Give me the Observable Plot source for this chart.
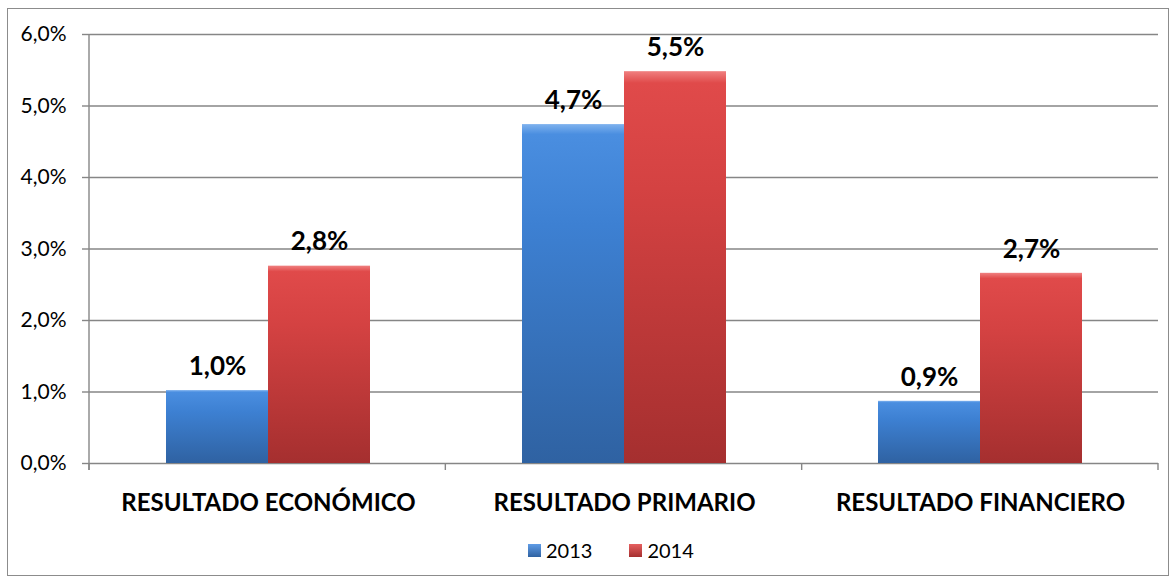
<!DOCTYPE html>
<html><head><meta charset="utf-8">
<script src="https://cdn.jsdelivr.net/npm/d3@7"></script>
<script src="https://cdn.jsdelivr.net/npm/@observablehq/plot@0.6"></script>
<style>
body{margin:0;background:#fff;font-family:Lato,"Open Sans",sans-serif;}
#wrap{position:relative;width:1171px;height:579px;}
#border{position:absolute;left:7px;top:8px;width:1162px;height:568px;border:1px solid #8c8c8c;box-sizing:border-box;}
#chart{position:absolute;left:0;top:0;}
#legend{position:absolute;top:538px;left:528px;display:flex;gap:37px;font-size:20px;color:#000;}
#legend span{display:flex;align-items:center;}
#legend i{display:inline-block;width:13px;height:13px;margin-right:5px;}
</style></head>
<body><div id="wrap"><div id="border"></div><div id="chart"></div><div id="legend"></div></div>
<script>
const categories = ["RESULTADO ECONÓMICO", "RESULTADO PRIMARIO", "RESULTADO FINANCIERO"];
const years = ["2013", "2014"];
const values2013 = [0.0102, 0.0474, 0.0087];
const values2014 = [0.0276, 0.0548, 0.0266];
const labels2013 = ["1,0%", "4,7%", "0,9%"];
const labels2014 = ["2,8%", "5,5%", "2,7%"];
const yTicks = [0, 0.01, 0.02, 0.03, 0.04, 0.05, 0.06];
const colors = {"2013": "url(#gBlue)", "2014": "url(#gRed)"};

const data = [];
categories.forEach((c, i) => {
  data.push({cat: c, year: "2013", value: values2013[i], label: labels2013[i]});
  data.push({cat: c, year: "2014", value: values2014[i], label: labels2014[i]});
});

const fmt = d => (d * 100).toFixed(1).replace(".", ",") + "%";

const plot = Plot.plot({
  width: 1171, height: 525,
  marginLeft: 89, marginRight: 13, marginTop: 34, marginBottom: 62,
  style: {fontFamily: "Lato, 'Open Sans', sans-serif", background: "transparent", color: "#000"},
  y: {domain: [0, 0.06], ticks: yTicks, tickFormat: fmt},
  x: {domain: years, paddingInner: 0, paddingOuter: 0.745, axis: null},
  fx: {domain: categories, padding: 0},
  marks: [
    Plot.ruleY(yTicks, {stroke: "#868686", strokeWidth: 1.4, facetAnchor: null}),
    Plot.axisY({ticks: yTicks, tickFormat: fmt, tickSize: 8, tickPadding: 16, fontSize: 21, stroke: "#868686", strokeWidth: 1.4, label: null, facetAnchor: "left"}),
    Plot.barY(data, {fx: "cat", x: "year", y: "value", fill: d => colors[d.year], inset: 0}),
    Plot.text(data, {fx: "cat", x: "year", y: "value", text: "label", dy: -24, fontSize: 26, fontWeight: "bold", fill: "#000"}),
    Plot.axisFx({anchor: "bottom", tickSize: 0, tickPadding: 30, fontSize: 24, fontWeight: "bold", label: null})
  ]
});

const svg = d3.select(plot);
const defs = svg.insert("defs", ":first-child");
function grad(id, stops) {
  const g = defs.append("linearGradient").attr("id", id).attr("x1", 0).attr("y1", 0).attr("x2", 0).attr("y2", 1);
  stops.forEach(([o, c]) => g.append("stop").attr("offset", o).attr("stop-color", c));
}
grad("gBlue", [[0, "#7fb2ee"], [0.03, "#4a8ee0"], [0.3, "#3d80d2"], [1, "#2f62a2"]]);
grad("gRed", [[0, "#f08080"], [0.03, "#e04a4a"], [0.3, "#d44242"], [1, "#a52f2f"]]);

// axis frame line and category separator ticks from the plot's y scale
const y = plot.scale("y");
const y0 = y.apply(0), yTop = y.apply(0.06);
const left = 89, right = 1171 - 13;
svg.append("line").attr("x1", left).attr("x2", left).attr("y1", yTop).attr("y2", y0 + 7).attr("stroke", "#868686").attr("stroke-width", 1.4);
const step = (right - left) / categories.length;
for (let i = 0; i <= categories.length; i++) {
  const xx = left + i * step;
  svg.append("line").attr("x1", xx).attr("x2", xx).attr("y1", y0).attr("y2", y0 + 7).attr("stroke", "#868686").attr("stroke-width", 1.4);
}
document.getElementById("chart").appendChild(plot);

const lg = document.getElementById("legend");
const legColors = {"2013": "linear-gradient(#5f9ce6,#2f62a2)", "2014": "linear-gradient(#e66060,#a52f2f)"};
years.forEach(yr => {
  const s = document.createElement("span");
  s.innerHTML = `<i style="background:${legColors[yr]}"></i>${yr}`;
  lg.appendChild(s);
});
</script></body></html>
